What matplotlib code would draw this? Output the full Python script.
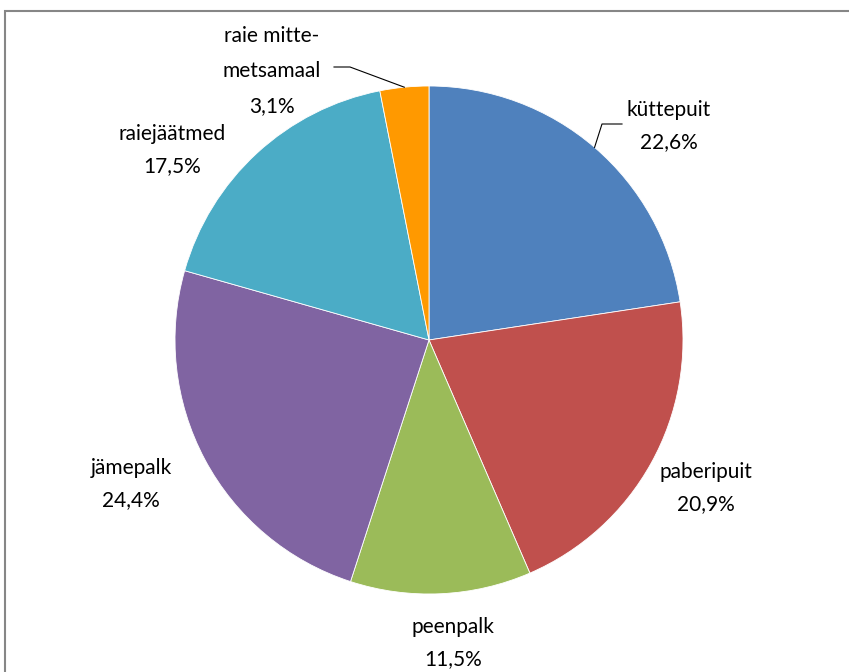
import numpy as np
import matplotlib
matplotlib.use("Agg")
import matplotlib.pyplot as plt
from matplotlib.patches import Rectangle

# data
labels = ["küttepuit", "paberipuit", "peenpalk", "jämepalk",
          "raiejäätmed", "raie mitte-\nmetsamaal"]
shares = [22.6, 20.9, 11.5, 24.4, 17.5, 3.1]
colors = ["#4F81BD", "#C0504D", "#9BBB59", "#8064A2", "#4BACC6", "#FF9900"]

# label text centres in pixel coords (top-left origin)
label_pos = [(669, 126), (706, 488), (453, 643), (131, 484), (172, 150), (272, 71)]

W, H = 849, 672
cx, cy, R = 429, 340, 254

fig = plt.figure(figsize=(W / 100, H / 100), dpi=100)
ax = fig.add_axes([0, 0, 1, 1])

wedges, _ = ax.pie(shares, colors=colors, startangle=90, counterclock=False,
                   center=(cx, H - cy), radius=R,
                   wedgeprops=dict(edgecolor="white", linewidth=0.6))

# pie() resets the limits, so set them afterwards
ax.set_xlim(0, W)
ax.set_ylim(0, H)
ax.set_aspect("equal")
ax.axis("off")

# chart frame (only top/left visible in the crop)
ax.add_patch(Rectangle((5.5, -20), W + 50, H - 11 + 20, fill=False,
                       edgecolor="#868686", linewidth=1.5, clip_on=False))

for w, lab, val, (tx, ty) in zip(wedges, labels, shares, label_pos):
    txt = lab + "\n" + f"{val:.1f}%".replace(".", ",")
    ls = 1.95 if "\n" in lab else 1.8
    ax.text(tx, H - ty, txt, ha="center", va="center", fontsize=15,
            family=["Lato", "DejaVu Sans"], linespacing=ls, color="black")

# leader lines for the two labels that have them
def leader(idx, elbow, end):
    w = wedges[idx]
    mid = np.deg2rad((w.theta1 + w.theta2) / 2)
    x0 = cx + R * np.cos(mid)
    y0 = (H - cy) + R * np.sin(mid)
    ax.plot([x0, elbow[0], end[0]], [y0, H - elbow[1], H - end[1]],
            color="black", linewidth=0.8)

leader(0, (602, 124), (622, 124))
leader(5, (350, 67), (334, 67))

fig.savefig("out.png", dpi=100)
